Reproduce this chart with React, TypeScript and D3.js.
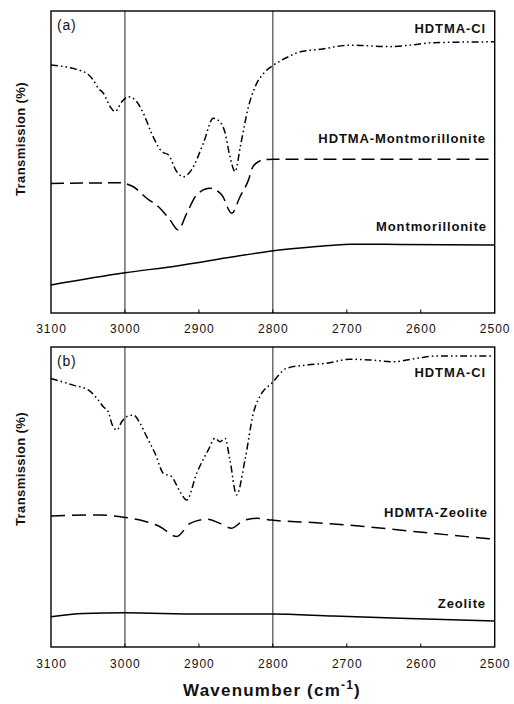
import React from "react";
import * as d3 from "d3";

// ---------- data (wavenumber cm-1, relative transmission 0-100 within panel) ----------
const xTicks = [3100, 3000, 2900, 2800, 2700, 2600, 2500];
const refLines = [3000, 2800];

const clA_w = [3100, 3056, 3043, 3036, 3029, 3020, 3013.5, 3004, 2995.5, 2986, 2975, 2964, 2950, 2941, 2930, 2921, 2910, 2894, 2880.5, 2871.5, 2865, 2858, 2851, 2844, 2833, 2824, 2810.5, 2799, 2781, 2763, 2736, 2696, 2642, 2614, 2583, 2500];
const clA_v = [82.1, 79.9, 77.2, 74.4, 72.7, 68.3, 66.7, 70.0, 71.6, 70.5, 66.1, 59.5, 53.4, 52.3, 46.8, 45.1, 47.4, 56.2, 64.5, 63.3, 60.0, 51.8, 46.8, 55.1, 68.3, 74.9, 79.9, 82.1, 84.6, 86.5, 87.3, 88.7, 88.2, 88.7, 89.5, 89.8];

const hmont_w = [3100, 3006.7, 2988.7, 2970.6, 2952.6, 2939, 2928, 2916.5, 2903, 2885, 2869, 2855.6, 2844.4, 2833, 2826.4, 2813, 2797, 2500];
const hmont_v = [42.9, 43.1, 41.8, 38.0, 34.7, 30.8, 27.5, 33.0, 39.1, 41.3, 39.1, 33.0, 38.5, 44.0, 48.7, 50.7, 50.9, 50.9];

const mont_w = [3100, 3000, 2930, 2853.5, 2799.4, 2740.7, 2695.7, 2628, 2500];
const mont_v = [9.3, 13.3, 15.6, 18.6, 20.6, 22.0, 22.8, 22.7, 22.5];

const clB_w = [3100, 3070, 3049.6, 3036, 3029.3, 3022.5, 3018, 3011, 3004.4, 2997.6, 2988.7, 2979.6, 2970.6, 2959.4, 2948, 2937, 2925.6, 2916.5, 2903, 2887.3, 2878.2, 2871.5, 2864.7, 2858, 2849, 2837.7, 2826.4, 2815, 2801.6, 2781.3, 2754, 2727, 2695.7, 2668.6, 2637, 2605.5, 2578.4, 2500];
const clB_v = [89.5, 87.3, 85.7, 82.3, 80.1, 78.4, 74.6, 72.3, 75.1, 76.8, 77.3, 74.6, 70.1, 64.6, 57.9, 56.8, 51.8, 49.0, 57.9, 65.7, 69.6, 68.4, 69.6, 62.3, 50.7, 62.3, 77.9, 84.6, 87.9, 92.9, 94.0, 94.6, 95.9, 95.7, 95.1, 96.2, 97.0, 97.0];

const hzeo_w = [3100, 3033.7, 3000, 2979.6, 2952.6, 2930, 2912, 2889.4, 2871.5, 2855.6, 2840, 2821.8, 2801.6, 2740.7, 2673, 2605.5, 2500];
const hzeo_v = [43.7, 44.0, 43.2, 42.3, 40.1, 36.8, 41.2, 42.6, 41.2, 39.6, 42.1, 42.9, 42.3, 41.4, 40.1, 38.4, 35.9];

const zeo_w = [3100, 3056, 3000, 2898.5, 2801.6, 2718, 2628, 2500];
const zeo_v = [10.1, 11.2, 11.4, 11.0, 11.0, 10.3, 9.6, 8.7];

type Series = { w: number[]; v: number[]; dash: string; label: string; lx: number; ly: number };

const panels = [
  {
    tag: "(a)",
    top: 11,
    bottom: 313,
    tickY: 333,
    titleY: 139,
    series: [
      { w: clA_w, v: clA_v, dash: "7,3,1.6,3,1.6,3", label: "HDTMA-Cl", lx: 486, ly: 33 },
      { w: hmont_w, v: hmont_v, dash: "13,6", label: "HDTMA-Montmorillonite", lx: 486, ly: 143 },
      { w: mont_w, v: mont_v, dash: "", label: "Montmorillonite", lx: 487, ly: 231 },
    ] as Series[],
  },
  {
    tag: "(b)",
    top: 347,
    bottom: 647,
    tickY: 668,
    titleY: 469,
    series: [
      { w: clB_w, v: clB_v, dash: "7,3,1.6,3,1.6,3", label: "HDTMA-Cl", lx: 486, ly: 377 },
      { w: hzeo_w, v: hzeo_v, dash: "14,7", label: "HDMTA-Zeolite", lx: 488, ly: 517 },
      { w: zeo_w, v: zeo_v, dash: "", label: "Zeolite", lx: 486, ly: 608 },
    ] as Series[],
  },
];

const FONT = "'Liberation Sans', Arial, Helvetica, sans-serif";

export default function App() {
  const W = 514;
  const H = 704;
  const left = 51;
  const right = 494.7;
  const x = d3.scaleLinear().domain([3100, 2500]).range([left, right]);

  return (
    <svg
      width={W}
      height={H}
      style={{ position: "absolute", left: 0, top: 0, background: "#fff" }}
      fontFamily={FONT}
    >
      <rect x={0} y={0} width={W} height={H} fill="#fff" />
      {panels.map((p, pi) => {
        const y = d3.scaleLinear().domain([0, 100]).range([p.bottom, p.top]);
        return (
          <g key={pi}>
            {refLines.map((r) => (
              <line key={r} x1={x(r)} x2={x(r)} y1={p.top} y2={p.bottom} stroke="#222" strokeWidth={1} />
            ))}
            {xTicks.slice(1, -1).map((t) => (
              <line key={"t" + t} x1={x(t)} x2={x(t)} y1={p.bottom} y2={p.bottom - 3.5} stroke="#000" strokeWidth={1} />
            ))}
            {p.series.map((s, si) => {
              const pts = s.w.map((w, i) => [x(w), y(s.v[i])] as [number, number]);
              const line = d3.line().curve(d3.curveMonotoneX)(pts) || "";
              return (
                <path
                  key={si}
                  d={line}
                  fill="none"
                  stroke="#000"
                  strokeWidth={1.5}
                  strokeDasharray={s.dash || undefined}
                />
              );
            })}
            <rect x={left} y={p.top} width={right - left} height={p.bottom - p.top} fill="none" stroke="#000" strokeWidth={1.4} />
            {p.series.map((s, si) => (
              <text
                key={"l" + si}
                x={s.lx}
                y={s.ly}
                textAnchor="end"
                fontSize={13}
                fontWeight="bold"
                letterSpacing={0.9}
                fill="#111"
              >
                {s.label}
              </text>
            ))}
            <text x={57} y={p.top + 18.5} fontSize={14} letterSpacing={0.8} fill="#111">
              {p.tag}
            </text>
            {xTicks.map((t) => (
              <text key={"x" + t} x={x(t) + 0.5} y={p.tickY} textAnchor="middle" fontSize={12} letterSpacing={1} fill="#111">
                {t}
              </text>
            ))}
            <text
              transform={`translate(25, ${p.titleY}) rotate(-90)`}
              textAnchor="middle"
              fontSize={13}
              fontWeight="bold"
              letterSpacing={0.4}
              fill="#111"
            >
              Transmission (%)
            </text>
          </g>
        );
      })}
      <text x={272} y={696} textAnchor="middle" fontSize={17} fontWeight="bold" letterSpacing={1.2} fill="#111">
        Wavenumber (cm
        <tspan dy={-7} fontSize={12}>-1</tspan>
        <tspan dy={7}>)</tspan>
      </text>
    </svg>
  );
}
